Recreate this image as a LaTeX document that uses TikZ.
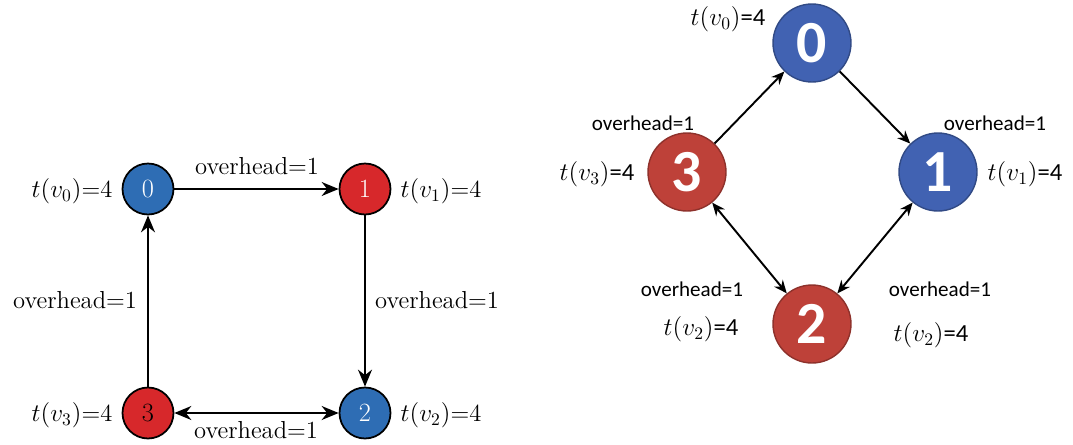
\documentclass[tikz,border=0pt]{standalone}
\usepackage{fontspec}
\newfontfamily\carlito{Carlito}
\usetikzlibrary{arrows.meta, positioning}
\definecolor{LeftBlue}{RGB}{46,109,180}
\definecolor{LeftRed}{RGB}{215,40,43}
\definecolor{RightBlue}{RGB}{65,98,178}
\definecolor{RightRed}{RGB}{190,65,57}

\begin{document}
\begin{tikzpicture}[
    x=0.02cm, y=-0.02cm,
    lnode/.style={circle, draw=black, line width=1pt, minimum size=1.02cm,
        inner sep=0pt, text=white, font=\fontsize{15}{15}\selectfont},
    rnode/.style={circle, line width=0.8pt, minimum size=1.56cm,
        inner sep=0pt, text=white, font=\fontsize{34}{34}\selectfont\carlito\bfseries},
    ltext/.style={font=\fontsize{14}{16}\selectfont, inner sep=0pt},
    rtext/.style={font=\fontsize{12}{14}\selectfont\carlito, inner sep=0pt},
    rmath/.style={font=\fontsize{14}{16}\selectfont\carlito, inner sep=0pt},
    larrow/.style={-{Stealth[length=3.4mm, width=2.8mm]}, line width=1.1pt},
    lboth/.style={{Stealth[length=3.4mm, width=2.8mm]}-{Stealth[length=3.4mm, width=2.8mm]}, line width=1.1pt},
    rarrow/.style={-{Stealth[length=2.6mm, width=2.2mm]}, line width=1.1pt},
    rboth/.style={{Stealth[length=2.6mm, width=2.2mm]}-{Stealth[length=2.6mm, width=2.2mm]}, line width=1.1pt},
]
\useasboundingbox (0,0) rectangle (1073,444);

% left graph
\node[lnode, fill=LeftBlue] (l0) at (148,189) {0};
\node[lnode, fill=LeftRed]  (l1) at (365,189) {1};
\node[lnode, fill=LeftBlue] (l2) at (365,413) {2};
\node[lnode, fill=LeftRed, text=black] (l3) at (148,413) {3};

\draw[larrow] (l0) -- (l1);
\draw[larrow] (l1) -- (l2);
\draw[larrow] (l3) -- (l0);
\draw[lboth] (l3) -- (l2);

\node[ltext] (lt0) at (72,191) {$t(v_0)$=4};
\node[ltext] (lt1) at (441,191) {$t(v_1)$=4};
\node[ltext] (lt2) at (441,415) {$t(v_2)$=4};
\node[ltext] (lt3) at (72,415) {$t(v_3)$=4};

\node[ltext] (lo01) at (257,166) {overhead=1};
\node[ltext] (lo12) at (437,300) {overhead=1};
\node[ltext] (lo30) at (75,300) {overhead=1};
\node[ltext, anchor=base] (lo32) at (256,438) {overhead=1};

% right graph
\node[rnode, fill=RightBlue, draw=RightBlue!75!black] (r0) at (812,43) {0};
\node[rnode, fill=RightBlue, draw=RightBlue!75!black] (r1) at (938,172) {1};
\node[rnode, fill=RightRed, draw=RightRed!75!black]   (r2) at (812,324) {2};
\node[rnode, fill=RightRed, draw=RightRed!75!black]   (r3) at (687,172) {3};

\draw[rarrow] (r3) -- (r0);
\draw[rarrow] (r0) -- (r1);
\draw[rboth] (r3) -- (r2);
\draw[rboth] (r1) -- (r2);

\node[rmath] (rt0) at (728,19) {$t(v_0)$=4};
\node[rmath] (rt3) at (597,174) {$t(v_3)$=4};
\node[rmath] (rt1) at (1025,174) {$t(v_1)$=4};
\node[rmath] (rt2a) at (701,329) {$t(v_2)$=4};
\node[rmath] (rt2b) at (931,335) {$t(v_2)$=4};

\node[rtext] (ro30) at (643,123) {overhead=1};
\node[rtext] (ro01) at (995,123) {overhead=1};
\node[rtext] (ro32) at (692,289) {overhead=1};
\node[rtext] (ro12) at (940,289) {overhead=1};

\end{tikzpicture}
\end{document}
